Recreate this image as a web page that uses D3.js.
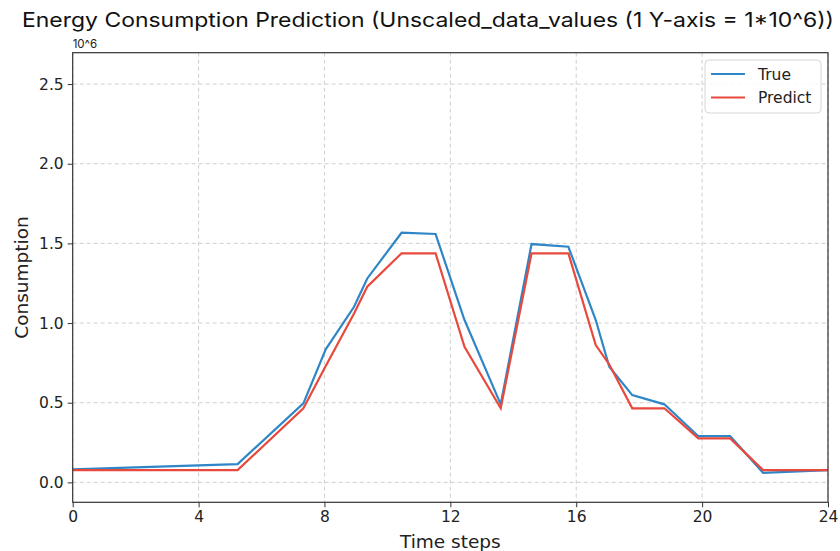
<!DOCTYPE html>
<html>
<head>
<meta charset="utf-8">
<script src="https://cdn.jsdelivr.net/npm/d3@7"></script>
<style>
  html, body { margin: 0; padding: 0; background: #fff; }
  svg { display: block; }
</style>
</head>
<body>
<svg id="chart" width="840" height="551"></svg>
<script>
// ---- data ----
const timeSteps = [0, 5.24, 7.33, 8.04, 8.94, 9.36, 10.45, 11.53, 12.45, 13.6, 14.58, 15.75, 16.62, 17.05, 17.78, 18.8, 19.88, 20.89, 21.94, 24];
const trueValues = [0.082, 0.115, 0.496, 0.835, 1.102, 1.28, 1.567, 1.559, 1.019, 0.49, 1.496, 1.479, 1.019, 0.726, 0.548, 0.49, 0.29, 0.29, 0.06, 0.077];
const predictValues = [0.077, 0.077, 0.465, 0.73, 1.06, 1.228, 1.438, 1.438, 0.851, 0.465, 1.438, 1.438, 0.862, 0.74, 0.465, 0.465, 0.276, 0.276, 0.077, 0.077];
const xTicks = [0, 4, 8, 12, 16, 20, 24];
const yTicks = [0.0, 0.5, 1.0, 1.5, 2.0, 2.5];
const seriesNames = ["True", "Predict"];
const seriesColors = ["#2f86c6", "#e8493c"];
const titleText = "Energy Consumption Prediction (Unscaled_data_values (1 Y-axis = 1*10^6))";

// ---- layout ----
const svg = d3.select("#chart");
const L = 72.7, R = 828, T = 52.7, B = 502.3;
const x = d3.scaleLinear().domain([0, 24]).range([L, R]);
const y = d3.scaleLinear().domain([-0.125, 2.697]).range([B, T]);
const tickFont = "'DejaVu Sans', sans-serif";

// grid
const grid = svg.append("g");
grid.selectAll("line.vx").data(xTicks).join("line")
  .attr("x1", d => x(d)).attr("x2", d => x(d)).attr("y1", T).attr("y2", B)
  .attr("stroke", "#cfcfcf").attr("stroke-width", 1).attr("stroke-dasharray", "4,3");
grid.selectAll("line.hy").data(yTicks).join("line")
  .attr("x1", L).attr("x2", R).attr("y1", d => y(d)).attr("y2", d => y(d))
  .attr("stroke", "#cfcfcf").attr("stroke-width", 1).attr("stroke-dasharray", "4,3");

// lines
const line = d3.line().x((d, i) => x(timeSteps[i])).y(d => y(d));
[trueValues, predictValues].forEach((vals, k) => {
  svg.append("path").datum(vals)
    .attr("d", line).attr("fill", "none")
    .attr("stroke", seriesColors[k]).attr("stroke-width", 2.2)
    .attr("stroke-linejoin", "miter");
});

// axes
const xAxis = svg.append("g").attr("transform", `translate(0,${B})`)
  .call(d3.axisBottom(x).tickValues(xTicks).tickFormat(d3.format("d")).tickSize(5).tickPadding(4));
const yAxis = svg.append("g").attr("transform", `translate(${L},0)`)
  .call(d3.axisLeft(y).tickValues(yTicks).tickFormat(d3.format(".1f")).tickSize(5).tickPadding(4));
[xAxis, yAxis].forEach(a => {
  a.selectAll("text").attr("font-family", tickFont).attr("font-size", 15.5).attr("fill", "#222");
  a.selectAll("line").attr("stroke", "#333");
  a.select(".domain").remove();
});

// frame
svg.append("rect").attr("x", L).attr("y", T).attr("width", R - L).attr("height", B - T)
  .attr("fill", "none").attr("stroke", "#333").attr("stroke-width", 1.2);

// axis labels
svg.append("text").attr("x", (L + R) / 2).attr("y", 548).attr("text-anchor", "middle")
  .attr("font-family", tickFont).attr("font-size", 18.5).attr("fill", "#222").text("Time steps");
svg.append("text").attr("transform", `translate(28,${(T + B) / 2}) rotate(-90)`).attr("text-anchor", "middle")
  .attr("font-family", tickFont).attr("font-size", 18.5).attr("fill", "#222").text("Consumption");

// offset text
svg.append("text").attr("x", L).attr("y", 48)
  .attr("font-family", "Inter, sans-serif").attr("font-size", 11.5).attr("fill", "#222").text("10^6");

// title
svg.append("text").attr("x", 428).attr("y", 27).attr("text-anchor", "middle")
  .attr("font-family", "Inter, sans-serif").attr("font-size", 20).attr("fill", "#111")
  .attr("textLength", 812).attr("lengthAdjust", "spacingAndGlyphs")
  .text(titleText);

// legend
const lg = svg.append("g");
lg.append("rect").attr("x", 705).attr("y", 60).attr("width", 116).attr("height", 53).attr("rx", 4)
  .attr("fill", "#fff").attr("fill-opacity", 0.85).attr("stroke", "#d6d6d6").attr("stroke-width", 1);
seriesNames.forEach((name, i) => {
  const yy = 74 + i * 23.5;
  lg.append("line").attr("x1", 711).attr("x2", 745).attr("y1", yy).attr("y2", yy)
    .attr("stroke", seriesColors[i]).attr("stroke-width", 2.2);
  lg.append("text").attr("x", 758).attr("y", yy + 5.5)
    .attr("font-family", tickFont).attr("font-size", 15.5).attr("fill", "#222").text(name);
});
</script>
</body>
</html>
